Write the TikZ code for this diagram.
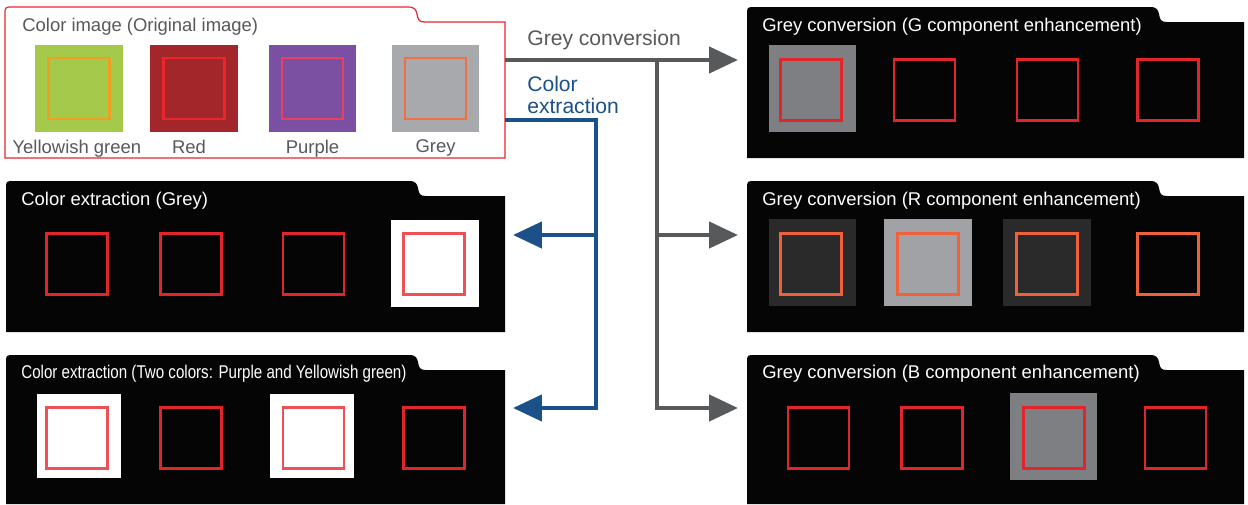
\documentclass[tikz,border=0pt]{standalone}
\usepackage{fontspec}
\setmainfont{Liberation Sans}
\usepackage{graphicx}
\usetikzlibrary{arrows.meta,positioning}

\definecolor{panelbk}{HTML}{050505}
\definecolor{orgred}{HTML}{E8262C}
\definecolor{txtgrey}{HTML}{58595B}
\definecolor{convgrey}{HTML}{58595B}
\definecolor{extrblue}{HTML}{1B5088}
\definecolor{ygreen}{HTML}{A5C94A}
\definecolor{ygrim}{HTML}{F0A020}
\definecolor{swred}{HTML}{A3262B}
\definecolor{swpurple}{HTML}{7B50A3}
\definecolor{swpink}{HTML}{E84060}
\definecolor{swgrey}{HTML}{A7A9AC}
\definecolor{swgreyrim}{HTML}{F07040}
\definecolor{rimred}{HTML}{E0262A}
\definecolor{rimorange}{HTML}{F0603A}
\definecolor{midgrey}{HTML}{7D7F83}
\definecolor{darkgrey}{HTML}{2A2A2A}
\definecolor{lightgrey}{HTML}{A0A2A5}

\newcommand{\folder}[5][]{%
  \path[#1] (#2,#5) -- (#2,#3+8) .. controls (#2,#3) .. (#2+8,#3)
    -- (#2+403,#3) .. controls (#2+410,#3) and (#2+411,#3+3) .. (#2+412,#3+7)
    .. controls (#2+413,#3+13) and (#2+414,#3+15) .. (#2+420,#3+15)
    -- (#4,#3+15) -- (#4,#5) -- cycle;}

\begin{document}
\begin{tikzpicture}[x=0.02cm, y=-0.02cm,
    paneltitle/.style={anchor=west, inner sep=0, text=white, font=\fontsize{10.5}{12}\selectfont},
    block/.style={minimum size=1.75cm, inner sep=0, outer sep=0, fill=#1},
    rim/.style={minimum size=1.22cm, inner sep=0, outer sep=0, draw=#1, line width=1.3pt},
    swlabel/.style={inner sep=0, text=txtgrey, font=\fontsize{10.5}{12}\selectfont},
    conv/.style={line width=2.6pt, draw=convgrey, -{Triangle[length=0.58cm,width=0.52cm]}},
    extr/.style={line width=2.5pt, draw=extrblue, -{Triangle[length=0.58cm,width=0.52cm]}}]

  \useasboundingbox (0,0) rectangle (1248,504);

  % original image
  \folder[fill=white, draw=orgred, line width=0.7pt]{5}{7}{505}{158}
  \node[paneltitle, text=txtgrey] (orig) at (22,27) {Color image (Original image)};
  \node[block=ygreen] (yg) at (79,88.5) {};
  \node[rim=ygrim] at (yg) {};
  \node[block=swred] (rd) at (194,88.5) {};
  \node[rim=orgred] at (rd) {};
  \node[block=swpurple] (pu) at (312.5,88.5) {};
  \node[rim=swpink] at (pu) {};
  \node[block=swgrey] (gy) at (435.5,88.5) {};
  \node[rim=swgreyrim] at (gy) {};
  \node[swlabel, below=0.15cm of yg.south west, anchor=north west, xshift=-0.46cm] {Yellowish green};
  \node[swlabel, below=0.15cm of rd, anchor=north, xshift=-0.1cm] {Red};
  \node[swlabel, below=0.15cm of pu] {Purple};
  \node[swlabel, below=0.15cm of gy] {Grey};

  % colour extraction: grey
  \folder[fill=panelbk]{6}{181}{505}{332}
  \node[paneltitle] at (21,201) {Color extraction (Grey)};
  \node[rim=rimred] at (77,264) {};
  \node[rim=rimred] at (191,264) {};
  \node[rim=rimred] at (313.5,264) {};
  \node[block=white] (xg4) at (435,263.5) {};
  \node[rim=orgred!80] at (434,264) {};

  % colour extraction: two colours
  \folder[fill=panelbk]{6}{355}{505}{504}
  \node[paneltitle] at (21,374) {\scalebox{0.82}[1]{Color extraction (Two colors: Purple and Yellowish green)}};
  \node[block=white, minimum size=1.7cm] (xt1) at (79,436) {};
  \node[rim=orgred!80] at (77,438) {};
  \node[rim=rimred] at (191,438) {};
  \node[block=white, minimum size=1.7cm] (xt3) at (312,436) {};
  \node[rim=orgred!80] at (313.5,438) {};
  \node[rim=rimred] at (434,438) {};

  % grey conversion: G
  \folder[fill=panelbk]{747}{7}{1244}{158}
  \node[paneltitle] at (762,27) {Grey conversion (G component enhancement)};
  \node[block=midgrey] (cg1) at (812.5,88.5) {};
  \node[rim=rimred] at (811,90) {};
  \node[rim=rimred] at (924.5,90) {};
  \node[rim=rimred] at (1047.5,90) {};
  \node[rim=rimred] at (1168,90) {};

  % grey conversion: R
  \folder[fill=panelbk]{747}{181}{1244}{332}
  \node[paneltitle] at (762,201) {Grey conversion (R component enhancement)};
  \node[block=darkgrey] (cr1) at (812.5,262.5) {};
  \node[rim=rimorange] at (811,264) {};
  \node[block=lightgrey] (cr2) at (928,262.5) {};
  \node[rim=rimorange] at (928,264) {};
  \node[block=darkgrey] (cr3) at (1047,262.5) {};
  \node[rim=rimorange] at (1047,264) {};
  \node[rim=rimorange] at (1168,264) {};

  % grey conversion: B
  \folder[fill=panelbk]{747}{355}{1244}{504}
  \node[paneltitle] at (762,374) {Grey conversion (B component enhancement)};
  \node[rim=rimred] at (818.5,438) {};
  \node[rim=rimred] at (932,438) {};
  \node[block=midgrey] (cb3) at (1053.5,436.5) {};
  \node[rim=rimred] at (1054,438) {};
  \node[rim=rimred] at (1175.5,438) {};

  % connectors
  \coordinate (gsrc) at (505,60);
  \coordinate (gsplit) at (657,60);
  \coordinate (gG) at (738,60);
  \coordinate (gR) at (738,235);
  \coordinate (gB) at (738,408);
  \coordinate (bsrc) at (505,120);
  \coordinate (bturn) at (596,120);
  \coordinate (bGrey) at (513,235);
  \coordinate (bTwo) at (513,408);

  \draw[conv] (gsrc) -- (gG);
  \draw[conv] (gsplit) |- (gB);
  \draw[conv] (gsplit |- gR) -- (gR);
  \draw[extr] (bsrc) -- (bturn) |- (bTwo);
  \draw[extr] (bturn |- bGrey) -- (bGrey);

  \node[anchor=west, inner sep=0, text=txtgrey, font=\fontsize{12}{14}\selectfont] (glab) at (527,40) {Grey conversion};
  \node[anchor=north west, inner sep=0, align=left, text=extrblue, font=\fontsize{12}{12.5}\selectfont] (blab) at (527,76) {Color\\extraction};
\end{tikzpicture}
\end{document}
